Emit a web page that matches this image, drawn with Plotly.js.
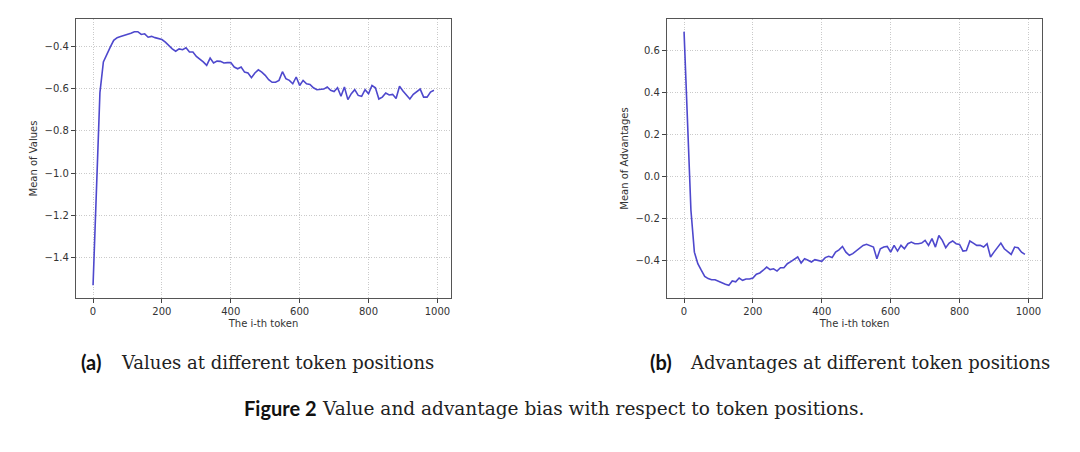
<!DOCTYPE html>
<html>
<head>
<meta charset="utf-8">
<script src="https://cdn.plot.ly/plotly-3.0.1.min.js"></script>
<style>html,body{margin:0;padding:0;background:#fff;}#chart{width:1080px;height:452px;}</style>
</head>
<body>
<div id="chart"></div>
<script>
const tokens = [0,10,20,30,40,50,60,70,80,90,100,110,120,130,140,150,160,170,180,190,
200,210,220,230,240,250,260,270,280,290,300,310,320,330,340,350,360,370,380,390,
400,410,420,430,440,450,460,470,480,490,500,510,520,530,540,550,560,570,580,590,
600,610,620,630,640,650,660,670,680,690,700,710,720,730,740,750,760,770,780,790,
800,810,820,830,840,850,860,870,880,890,900,910,920,930,940,950,960,970,980,990];

const meanValues = [-1.53,-1.03,-0.62,-0.475,-0.436,-0.405,-0.373,-0.36,-0.355,-0.35,
-0.347,-0.339,-0.332,-0.332,-0.345,-0.342,-0.358,-0.354,-0.36,-0.364,
-0.369,-0.381,-0.397,-0.413,-0.424,-0.413,-0.417,-0.408,-0.428,-0.428,
-0.449,-0.46,-0.475,-0.491,-0.457,-0.48,-0.471,-0.472,-0.48,-0.478,
-0.478,-0.499,-0.507,-0.499,-0.523,-0.527,-0.549,-0.527,-0.512,-0.523,
-0.538,-0.559,-0.571,-0.571,-0.562,-0.521,-0.554,-0.562,-0.578,-0.546,
-0.586,-0.562,-0.578,-0.581,-0.597,-0.606,-0.606,-0.603,-0.593,-0.609,
-0.615,-0.597,-0.637,-0.593,-0.653,-0.625,-0.606,-0.633,-0.637,-0.606,
-0.625,-0.586,-0.597,-0.65,-0.641,-0.622,-0.631,-0.628,-0.648,-0.59,
-0.612,-0.634,-0.65,-0.628,-0.617,-0.603,-0.641,-0.641,-0.617,-0.609];

const meanAdvantages = [0.689,0.23,-0.16,-0.359,-0.414,-0.445,-0.474,-0.485,-0.49,-0.49,
-0.498,-0.506,-0.512,-0.517,-0.496,-0.5,-0.482,-0.493,-0.487,-0.487,
-0.482,-0.464,-0.458,-0.445,-0.43,-0.442,-0.438,-0.449,-0.433,-0.433,
-0.414,-0.404,-0.392,-0.382,-0.411,-0.39,-0.398,-0.406,-0.395,-0.398,
-0.403,-0.385,-0.379,-0.385,-0.359,-0.348,-0.332,-0.359,-0.374,-0.366,
-0.354,-0.343,-0.327,-0.322,-0.327,-0.335,-0.39,-0.343,-0.335,-0.332,
-0.359,-0.327,-0.354,-0.327,-0.343,-0.319,-0.311,-0.319,-0.319,-0.316,
-0.303,-0.327,-0.295,-0.335,-0.28,-0.303,-0.338,-0.316,-0.306,-0.319,
-0.322,-0.354,-0.351,-0.306,-0.316,-0.327,-0.327,-0.335,-0.319,-0.382,
-0.359,-0.335,-0.316,-0.343,-0.359,-0.37,-0.335,-0.338,-0.359,-0.37];

const xTitle = "The i-th token";
const yTitleA = "Mean of Values";
const yTitleB = "Mean of Advantages";
const captionA = ["(a)", "Values at different token positions"];
const captionB = ["(b)", "Advantages at different token positions"];
const figCaption = ["Figure 2", "Value and advantage bias with respect to token positions."];

const lineColor = "rgb(78,72,205)";
const tickFont = {family: "DejaVu Sans", size: 10, color: "#333"};

function xAxis(domain, anchor) {
  return {
    domain: domain, anchor: anchor, range: [-49.5, 1039.5],
    tickmode: "linear", tick0: 0, dtick: 200,
    ticks: "outside", ticklen: 4, tickwidth: 1, tickcolor: "#444",
    showline: true, mirror: true, linecolor: "#555", linewidth: 1.2,
    showgrid: true, gridcolor: "#c4c4c4", griddash: "1px,1.5px", gridwidth: 0.9,
    zeroline: false, tickfont: tickFont,
    title: {text: xTitle, font: {family: "DejaVu Sans", size: 10, color: "#333"}, standoff: 3}
  };
}
function yAxis(domain, anchor, range, title) {
  return {
    domain: domain, anchor: anchor, range: range,
    tickmode: "linear", tick0: 0, dtick: 0.2, tickformat: ".1f",
    ticks: "outside", ticklen: 4, tickwidth: 1, tickcolor: "#444",
    showline: true, mirror: true, linecolor: "#555", linewidth: 1.2,
    showgrid: true, gridcolor: "#c4c4c4", griddash: "1px,1.5px", gridwidth: 0.9,
    zeroline: false, tickfont: tickFont,
    title: {text: title, font: {family: "DejaVu Sans", size: 10, color: "#333"}, standoff: 5}
  };
}

const traces = [
  {x: tokens, y: meanValues, xaxis: "x", yaxis: "y", type: "scatter", mode: "lines",
   line: {color: lineColor, width: 1.6}, hoverinfo: "skip"},
  {x: tokens, y: meanAdvantages, xaxis: "x2", yaxis: "y2", type: "scatter", mode: "lines",
   line: {color: lineColor, width: 1.6}, hoverinfo: "skip"}
];

const W = 1080, H = 452;
function px(x) { return x / W; }
function py(y) { return 1 - y / H; }

const sansBold = {family: "Lato", size: 20, color: "#111"};
const serif = {family: "DejaVu Serif", size: 18, color: "#222"};
const serifFig = {family: "DejaVu Serif", size: 18.5, color: "#222"};

const layout = {
  width: W, height: H,
  margin: {l: 0, r: 0, t: 0, b: 0},
  paper_bgcolor: "#fff", plot_bgcolor: "#fff",
  showlegend: false,
  xaxis: xAxis([px(76), px(451)], "y"),
  yaxis: yAxis([py(298), py(19)], "x", [-1.59, -0.272], yTitleA),
  xaxis2: xAxis([px(667), px(1042)], "y2"),
  yaxis2: yAxis([py(298), py(19)], "x2", [-0.577, 0.749], yTitleB),
  annotations: [
    {text: "<b>" + captionA[0] + "</b>", x: px(79), y: py(362), xref: "paper", yref: "paper", xanchor: "left", yanchor: "middle", showarrow: false, font: sansBold},
    {text: captionA[1], x: px(119), y: py(362), xref: "paper", yref: "paper", xanchor: "left", yanchor: "middle", showarrow: false, font: serif},
    {text: "<b>" + captionB[0] + "</b>", x: px(648), y: py(362), xref: "paper", yref: "paper", xanchor: "left", yanchor: "middle", showarrow: false, font: sansBold},
    {text: captionB[1], x: px(688), y: py(362), xref: "paper", yref: "paper", xanchor: "left", yanchor: "middle", showarrow: false, font: serif},
    {text: "<b>" + figCaption[0] + "</b>", x: px(242), y: py(408), xref: "paper", yref: "paper", xanchor: "left", yanchor: "middle", showarrow: false, font: sansBold},
    {text: figCaption[1], x: px(320), y: py(408), xref: "paper", yref: "paper", xanchor: "left", yanchor: "middle", showarrow: false, font: serifFig}
  ]
};

Plotly.newPlot("chart", traces, layout, {staticPlot: true, displayModeBar: false});
</script>
</body>
</html>
